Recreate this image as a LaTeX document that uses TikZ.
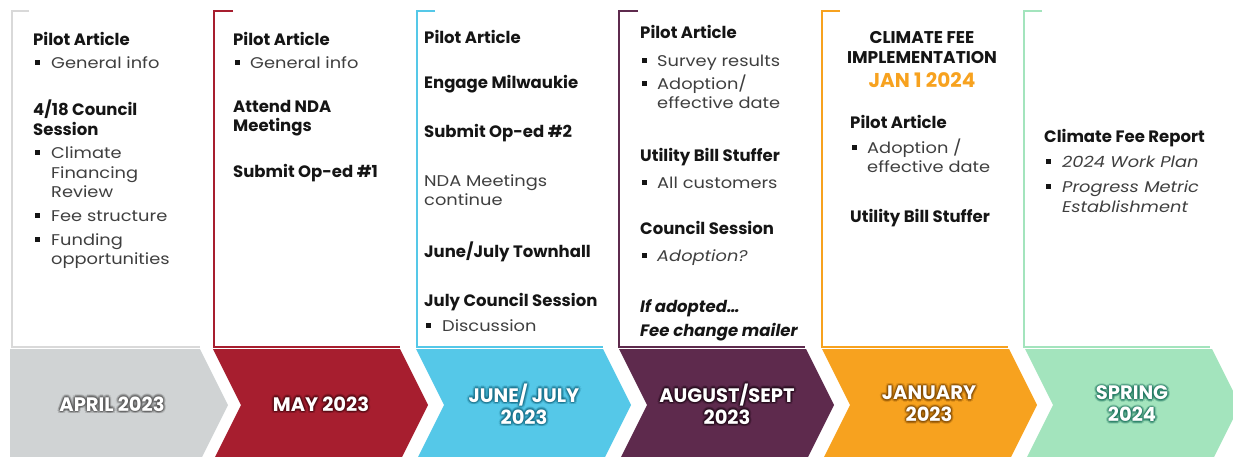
\documentclass[tikz,border=0pt]{standalone}
\usepackage{fontspec}
\usetikzlibrary{calc}
\newfontfamily\bodyf[FakeStretch=1.15]{Poppins}
\newfontfamily\headf{Poppins}
\newfontfamily\labf{Poppins}
\definecolor{cgray}{HTML}{D0D3D4}
\definecolor{cgrayln}{HTML}{D9D9D9}
\definecolor{cred}{HTML}{A71E2F}
\definecolor{cblue}{HTML}{55C8E8}
\definecolor{cpurple}{HTML}{5E2A4D}
\definecolor{corange}{HTML}{F7A21F}
\definecolor{cgreen}{HTML}{A3E4BD}
\definecolor{hdcol}{HTML}{151515}
\definecolor{btcol}{HTML}{3F3F3F}
\definecolor{ggray}{HTML}{505050}
\definecolor{gred}{HTML}{4A0810}
\definecolor{gblue}{HTML}{126A84}
\definecolor{gpurple}{HTML}{1E0816}
\definecolor{gorange}{HTML}{7A4400}
\definecolor{ggreen}{HTML}{16705A}
\tikzset{
  hd/.style={anchor=base west, inner sep=0pt, text=hdcol, font=\headf\bfseries\fontsize{16.5}{19}\selectfont},
  bt/.style={anchor=base west, inner sep=0pt, text=btcol, font=\bodyf\fontsize{15.5}{19}\selectfont},
  bul/.style={fill=hdcol, minimum size=5pt, inner sep=0pt},
  brk/.style={line width=1.3pt},
  lab/.style={inner sep=0pt, align=center, text=white, font=\labf\bfseries\fontsize{19.5}{22}\selectfont},
  captext/.style={anchor=base, inner sep=0pt, text=hdcol, font=\headf\bfseries\fontsize{17}{19}\selectfont},
}
\newcommand\hdl[4]{\node[hd] (#1) at (#2,#3) {#4};}
\newcommand\btl[4]{\node[bt] (#1) at (#2,#3) {#4};}
\newcommand\bitem[5]{\node[bul] (#1b) at (#2+4.5,#4-6) {};\node[bt] (#1) at (#3,#4) {#5};}
\newcommand\chevlab[4]{%
  \foreach \a [count=\i] in {0,45,...,315}{
    \node[lab, text=#3, opacity=0.2] (#1ga\i) at ($(#2)+(\a:2.6)$) {#4};
    \node[lab, text=#3, opacity=0.3] (#1gb\i) at ($(#2)+(\a:1.3)$) {#4};
  }
  \node[lab] (#1) at (#2) {#4};}
\begin{document}
\begin{tikzpicture}[x=1pt,y=-1pt]
\useasboundingbox (0,0) rectangle (1233,456);
\clip (0,0) rectangle (1233,456);
% brackets
\draw[brk, cgrayln] (29,11) -- (12,11) -- (12,347) -- (200,347);
\draw[brk, cred] (233,11) -- (214,11) -- (214,347) -- (400,347);
\draw[brk, cblue] (435,11) -- (417,11) -- (417,347) -- (603,347);
\draw[brk, cpurple] (638,11) -- (619,11) -- (619,347) -- (805,347);
\draw[brk, corange] (840,11) -- (822,11) -- (822,347) -- (1008,347);
\draw[brk, cgreen] (1042,11) -- (1024,11) -- (1024,347) -- (1210,347);
% chevrons
\fill[cgray] (10,349) -- (200,349) -- (228,405) -- (200,461) -- (10,461) -- cycle;
\fill[cred] (213,349) -- (400,349) -- (428,405) -- (400,461) -- (213,461) -- (241,405) -- cycle;
\fill[cblue] (416,349) -- (603,349) -- (631,405) -- (603,461) -- (416,461) -- (444,405) -- cycle;
\fill[cpurple] (619,349) -- (806,349) -- (834,405) -- (806,461) -- (619,461) -- (647,405) -- cycle;
\fill[corange] (822,349) -- (1009,349) -- (1037,405) -- (1009,461) -- (822,461) -- (850,405) -- cycle;
\fill[cgreen] (1025,349) -- (1212,349) -- (1240,405) -- (1212,461) -- (1025,461) -- (1053,405) -- cycle;
% chevron labels
\coordinate (p1) at (112,404);
\coordinate (p2) at (321,404);
\coordinate (p3) at (524,404);
\coordinate (p4) at (727,404);
\coordinate (p5) at (929,404);
\coordinate (p6) at (1132,404);
\chevlab{l1}{p1}{ggray}{APRIL 2023}
\chevlab{l2}{p2}{gred}{MAY 2023}
\chevlab{l3}{p3}{gblue}{JUNE/ JULY\\2023}
\chevlab{l4}{p4}{gpurple}{AUGUST/SEPT\\2023}
\chevlab{l5}{p5}{gorange}{JANUARY\\2023}
\chevlab{l6}{p6}{ggreen}{SPRING\\2024}
% column 1
\hdl{a1}{33}{45}{Pilot Article}
\bitem{a2}{33}{51}{68}{General info}
\hdl{a3}{33}{115}{4/18 Council}
\hdl{a4}{33}{135}{Session}
\bitem{a5}{33}{51}{158}{Climate}
\btl{a6}{51}{178}{Financing}
\btl{a7}{51}{197}{Review}
\bitem{a8}{33}{51}{221}{Fee structure}
\bitem{a9}{33}{51}{245}{Funding}
\btl{a10}{51}{264}{opportunities}
% column 2
\hdl{b1}{233}{45}{Pilot Article}
\bitem{b2}{233}{250}{68}{General info}
\hdl{b3}{233}{112}{Attend NDA}
\hdl{b4}{233}{131}{Meetings}
\hdl{b5}{233}{177}{Submit Op-ed \#1}
% column 3
\hdl{c1}{424}{43}{Pilot Article}
\hdl{c2}{424}{88}{Engage Milwaukie}
\hdl{c3}{424}{137}{Submit Op-ed \#2}
\btl{c4}{424}{186}{NDA Meetings}
\btl{c5}{424}{205}{continue}
\hdl{c6}{424}{257}{June/July Townhall}
\hdl{c7}{424}{306}{July Council Session}
\bitem{c8}{424}{442}{331}{Discussion}
% column 4
\hdl{d1}{640}{38}{Pilot Article}
\bitem{d2}{640}{657}{66}{Survey results}
\bitem{d3}{640}{657}{89}{Adoption/}
\btl{d4}{657}{108}{effective date}
\hdl{d5}{640}{161}{Utility Bill Stuffer}
\bitem{d6}{640}{657}{188}{All customers}
\hdl{d7}{640}{234}{Council Session}
\bitem{d8}{640}{657}{261}{\itshape Adoption?}
\hdl{d9}{640}{312}{\itshape If adopted…}
\hdl{d10}{640}{336}{\itshape Fee change mailer}
% column 5
\node[captext] (e1) at (922,43) {CLIMATE FEE};
\node[captext] (e2) at (922,63) {IMPLEMENTATION};
\node[captext, text=corange, font=\headf\bfseries\fontsize{20}{22}\selectfont] (e3) at (922,87) {JAN 1 2024};
\hdl{e4}{850}{128}{Pilot Article}
\bitem{e5}{850}{867}{153}{Adoption /}
\btl{e6}{867}{172}{effective date}
\hdl{e7}{850}{222}{Utility Bill Stuffer}
% column 6
\hdl{f1}{1044}{142}{Climate Fee Report}
\bitem{f2}{1044}{1062}{167}{\itshape 2024 Work Plan}
\bitem{f3}{1044}{1062}{192}{\itshape Progress Metric}
\btl{f4}{1062}{212}{\itshape Establishment}
\end{tikzpicture}
\end{document}
